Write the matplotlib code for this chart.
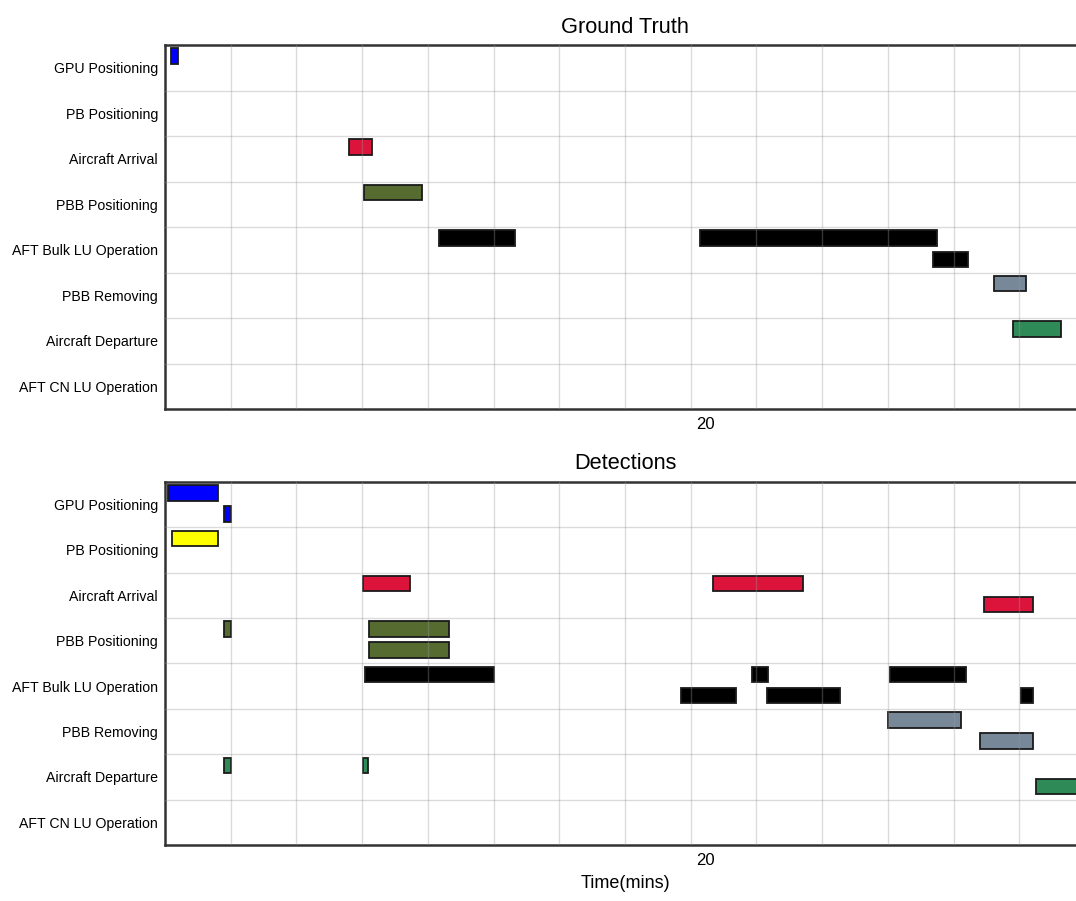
import numpy as np
import matplotlib
matplotlib.use("Agg")
import matplotlib.pyplot as plt
from matplotlib.ticker import FixedLocator

plt.rcParams['font.family'] = ['Liberation Sans', 'DejaVu Sans']

# Activities (rows, top to bottom) and their bar colours
activities = ['GPU Positioning', 'PB Positioning', 'Aircraft Arrival', 'PBB Positioning',
              'AFT Bulk LU Operation', 'PBB Removing', 'Aircraft Departure',
              'AFT CN LU Operation']
activity_colors = ['#0000ff', '#ffff00', '#dc143c', '#556b2f',
                   '#000000', '#778899', '#2e8b57', '#ff8c00']

# Ground truth intervals (minutes): activity index, lane, start, end
gt_task  = [0, 2, 3, 4, 4, 4, 5, 6]
gt_lane  = [0, 0, 0, 0, 0, 1, 0, 0]
gt_start = [11.87, 14.58, 14.81, 15.95, 19.92, 23.47, 24.39, 24.69]
gt_end   = [11.98, 14.93, 15.69, 17.11, 23.53, 24.00, 24.88, 25.42]

# Detected intervals (minutes): activity index, lane, start, end
det_task  = [0, 0, 1, 2, 2, 2, 3, 3, 3, 4, 4, 4, 4, 4, 4, 5, 5, 6, 6, 6]
det_lane  = [0, 1, 0, 0, 0, 1, 0, 0, 1, 0, 0, 0, 1, 1, 1, 0, 1, 0, 0, 1]
det_start = [11.82, 12.68, 11.89, 14.80, 20.12, 24.25, 12.68, 14.89, 14.89,
             14.83, 20.71, 22.81, 19.64, 20.94, 24.81, 22.79, 24.18,
             12.68, 14.80, 25.03]
det_end   = [12.58, 12.78, 12.58, 15.51, 21.49, 24.99, 12.79, 16.11, 16.11,
             16.78, 20.95, 23.97, 20.47, 22.05, 24.99, 23.90, 24.99,
             12.78, 14.87, 25.90]

# Time axis
t_start = 11.78
t_span = 14.0
x_ticks = [20]
x_tick_labels = ['20']

LANE_OFFSET = [-0.255, 0.21]
BAR_HEIGHT = 0.34

fig = plt.figure(figsize=(10.76, 9.01), dpi=100)
ax_gt = fig.add_axes([0.1533, 0.546, 0.855, 0.404])
ax_det = fig.add_axes([0.1533, 0.0621, 0.855, 0.4033])


def draw_panel(ax, task, lane, start, end, title):
    for t, l, s, e in zip(task, lane, start, end):
        ax.barh(t + LANE_OFFSET[l], e - s, left=s, height=BAR_HEIGHT,
                color=activity_colors[t], edgecolor='#1a1a1a', linewidth=1.3,
                zorder=2)
    n = len(activities)
    ax.set_ylim(n - 0.5, -0.5)
    ax.set_xlim(t_start, t_start + t_span)
    ax.set_yticks(range(n))
    ax.set_yticklabels(activities, fontsize=10.2)
    ax.yaxis.set_minor_locator(FixedLocator(np.arange(0.5, n - 0.5, 1)))
    ax.xaxis.set_minor_locator(FixedLocator(t_start + np.arange(1, t_span)))
    ax.set_xticks(x_ticks)
    ax.set_xticklabels(x_tick_labels, fontsize=12)
    ax.tick_params(which='both', length=0)
    ax.tick_params(axis='y', pad=5)
    ax.tick_params(axis='x', pad=6)
    ax.grid(False)
    ax.grid(which='minor', color='#999999', alpha=0.35, linewidth=1.0)
    ax.set_axisbelow(False)
    for side in ['left', 'top', 'bottom', 'right']:
        ax.spines[side].set_color('#333333')
        ax.spines[side].set_linewidth(1.8)
    ax.set_title(title, fontsize=15.7, pad=9)


draw_panel(ax_gt, gt_task, gt_lane, gt_start, gt_end, 'Ground Truth')
draw_panel(ax_det, det_task, det_lane, det_start, det_end, 'Detections')
ax_det.set_xlabel('Time(mins)', fontsize=13, labelpad=5)

fig.savefig('out.png', dpi=100)
